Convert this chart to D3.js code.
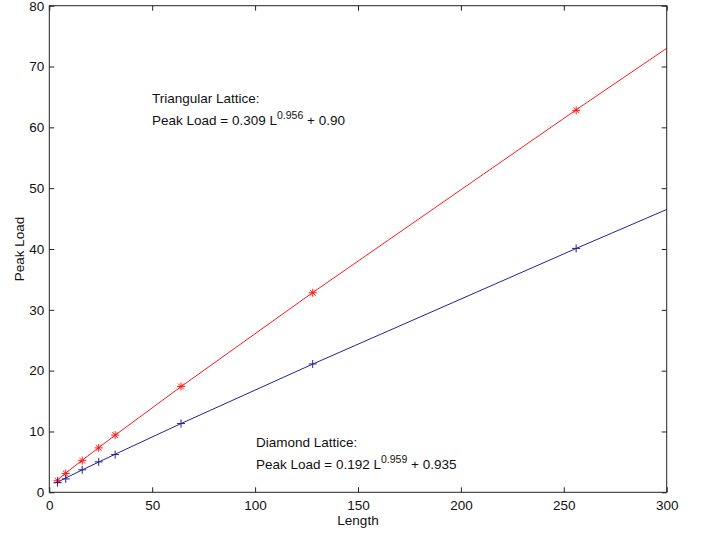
<!DOCTYPE html>
<html><head><meta charset="utf-8">
<script src="https://cdn.jsdelivr.net/npm/d3@7"></script>
<style>body{margin:0;background:#fff}text{font-family:"Liberation Sans",Arial,Helvetica,sans-serif}</style>
</head><body>
<svg id="c" width="712" height="536"></svg>
<script>
const lengths = [4, 8, 16, 24, 32, 64, 128, 256];
const triangular = [1.9, 3.1, 5.2, 7.3, 9.4, 17.4, 32.8, 62.8];
const diamond = [1.6, 2.2, 3.7, 5.0, 6.2, 11.3, 21.1, 40.1];
const fitLengths = [4, 8, 16, 32, 64, 128, 256, 300];
const triangularFit = [2.06, 3.16, 5.28, 9.39, 17.37, 32.84, 62.88, 73.0];
const diamondFit = [1.66, 2.35, 3.68, 6.26, 11.30, 21.08, 40.09, 46.5];
const xTicks = [0, 50, 100, 150, 200, 250, 300];
const yTicks = [0, 10, 20, 30, 40, 50, 60, 70, 80];

const svg = d3.select("#c");
const L = 49.3, R = 666.7, T = 5.7, B = 492.3;
const x = d3.scaleLinear().domain([0, 300]).range([L, R]);
const y = d3.scaleLinear().domain([0, 80]).range([B, T]);

const red = "#ff1a1a", blue = "#23238f";

// fit lines
const line = d3.line().x(d => x(d[0])).y(d => y(d[1]));
svg.append("path").datum(fitLengths.map((l, i) => [l, triangularFit[i]]))
  .attr("d", line).attr("fill", "none").attr("stroke", red).attr("stroke-width", 1);
svg.append("path").datum(fitLengths.map((l, i) => [l, diamondFit[i]]))
  .attr("d", line).attr("fill", "none").attr("stroke", blue).attr("stroke-width", 1);

// markers
const s = 4, d45 = s * 0.72;
lengths.forEach((l, i) => {
  const cx = x(l), cy = y(triangular[i]);
  const g = svg.append("g").attr("stroke", red).attr("stroke-width", 1);
  g.append("line").attr("x1", cx - s).attr("x2", cx + s).attr("y1", cy).attr("y2", cy);
  g.append("line").attr("x1", cx).attr("x2", cx).attr("y1", cy - s).attr("y2", cy + s);
  g.append("line").attr("x1", cx - d45).attr("x2", cx + d45).attr("y1", cy - d45).attr("y2", cy + d45);
  g.append("line").attr("x1", cx - d45).attr("x2", cx + d45).attr("y1", cy + d45).attr("y2", cy - d45);
});
lengths.forEach((l, i) => {
  const cx = x(l), cy = y(diamond[i]);
  const g = svg.append("g").attr("stroke", blue).attr("stroke-width", 1);
  g.append("line").attr("x1", cx - s).attr("x2", cx + s).attr("y1", cy).attr("y2", cy);
  g.append("line").attr("x1", cx).attr("x2", cx).attr("y1", cy - s).attr("y2", cy + s);
});

// axes (MATLAB box style, inward ticks)
const tk = 5;
const axisColor = "#222";
const fs = 13.5;
function styleAxis(g) {
  g.select(".domain").remove();
  g.selectAll(".tick line").attr("stroke", axisColor);
  g.selectAll(".tick text").attr("fill", "#111").style("font-size", fs + "px")
    .style("font-family", '"Liberation Sans", Arial, sans-serif');
}
svg.append("g").attr("transform", `translate(0,${B})`)
  .call(d3.axisBottom(x).tickValues(xTicks).tickSize(-tk).tickPadding(8).tickFormat(d3.format("d")))
  .call(styleAxis);
svg.append("g").attr("transform", `translate(0,${T})`)
  .call(d3.axisTop(x).tickValues(xTicks).tickSize(-tk).tickFormat(""))
  .call(styleAxis);
svg.append("g").attr("transform", `translate(${L},0)`)
  .call(d3.axisLeft(y).tickValues(yTicks).tickSize(-tk).tickPadding(5).tickFormat(d3.format("d")))
  .call(styleAxis);
svg.append("g").attr("transform", `translate(${R},0)`)
  .call(d3.axisRight(y).tickValues(yTicks).tickSize(-tk).tickFormat(""))
  .call(styleAxis);
svg.append("rect").attr("x", L).attr("y", T).attr("width", R - L).attr("height", B - T)
  .attr("fill", "none").attr("stroke", axisColor).attr("stroke-width", 1);

// axis labels
svg.append("text").attr("x", (L + R) / 2).attr("y", 525).attr("text-anchor", "middle")
  .style("font-size", fs + "px").attr("fill", "#111").text("Length");
svg.append("text").attr("transform", `translate(24,${(T + B) / 2}) rotate(-90)`)
  .attr("text-anchor", "middle").style("font-size", fs + "px").attr("fill", "#111").text("Peak Load");

// annotations
function annot(x0, y0, title, coef, expo, tail) {
  svg.append("text").attr("x", x0).attr("y", y0).style("font-size", fs + "px").attr("fill", "#111").text(title);
  const t = svg.append("text").attr("x", x0).attr("y", y0 + 21.5).style("font-size", fs + "px").attr("fill", "#111");
  t.append("tspan").text("Peak Load = " + coef + " L");
  t.append("tspan").attr("dy", -6).style("font-size", "10.5px").text(expo);
  t.append("tspan").attr("dy", 6).text(" + " + tail);
}
annot(152, 103, "Triangular Lattice:", "0.309", "0.956", "0.90");
annot(256, 447, "Diamond Lattice:", "0.192", "0.959", "0.935");
</script>
</body></html>
